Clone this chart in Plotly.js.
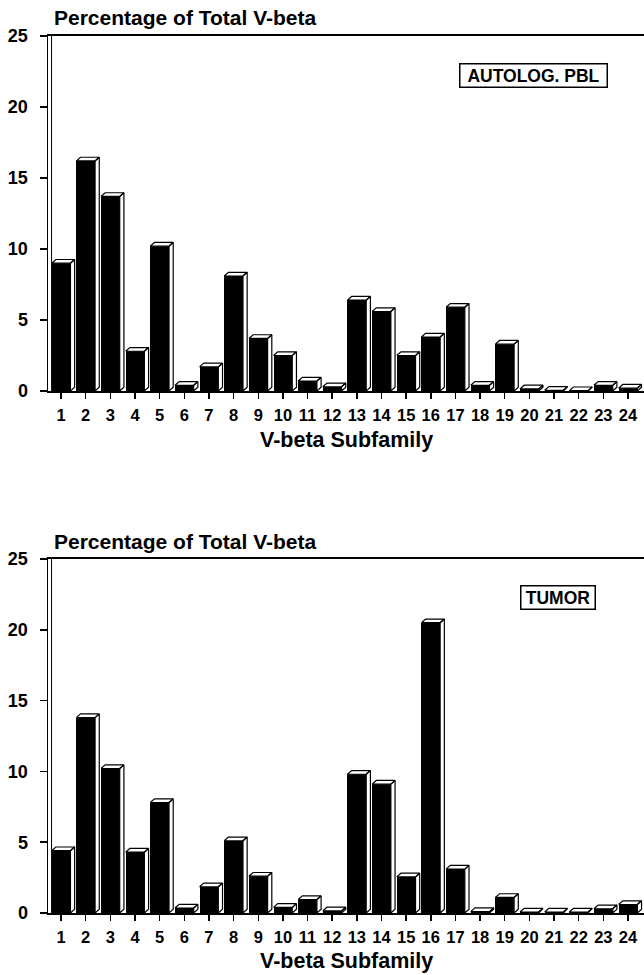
<!DOCTYPE html>
<html>
<head>
<meta charset="utf-8">
<script src="https://cdn.plot.ly/plotly-3.0.1.min.js"></script>
<style>html,body{margin:0;padding:0;background:#fff;}#chart{width:644px;height:975px;}</style>
</head>
<body>
<div id="chart"></div>
<script>
const categories = ['1','2','3','4','5','6','7','8','9','10','11','12','13','14','15','16','17','18','19','20','21','22','23','24'];
const pblValues = [9.0,16.2,13.7,2.8,10.2,0.4,1.7,8.1,3.7,2.5,0.7,0.3,6.4,5.6,2.5,3.8,5.9,0.4,3.3,0.15,0.05,0.02,0.4,0.2];
const tumorValues = [4.4,13.8,10.2,4.3,7.8,0.35,1.85,5.1,2.6,0.4,0.95,0.15,9.8,9.1,2.55,20.5,3.1,0.1,1.1,0.07,0.07,0.07,0.3,0.6];
const yTitle = 'Percentage of Total V-beta';
const xTitle = 'V-beta Subfamily';
const panelLabels = ['AUTOLOG. PBL', 'TUMOR'];

const W = 644, H = 975;
const FONT = 'Liberation Sans, Arial, Helvetica, sans-serif';
const barW = 0.76, dx = 0.17, dy = 0.26;
const xPos = categories.map((c, i) => i + 1);

function faces(vals) {
  const xs = [], ys = [];
  vals.forEach((v, i) => {
    const x0 = xPos[i] - barW / 2, x1 = xPos[i] + barW / 2;
    xs.push(x0, x0 + dx, x1 + dx, x1, x0, null);
    ys.push(v, v + dy, v + dy, v, v, null);
    xs.push(x1, x1 + dx, x1 + dx, x1, x1, null);
    ys.push(v, v + dy, dy, 0, v, null);
  });
  return {xs, ys};
}

const traces = [];
[[pblValues, 'x', 'y'], [tumorValues, 'x2', 'y2']].forEach(([vals, xa, ya]) => {
  traces.push({type: 'bar', x: xPos, y: vals, width: barW, xaxis: xa, yaxis: ya,
    marker: {color: '#000', line: {width: 0}}, hoverinfo: 'skip', showlegend: false});
  const f = faces(vals);
  traces.push({type: 'scatter', mode: 'lines', x: f.xs, y: f.ys, xaxis: xa, yaxis: ya,
    fill: 'toself', fillcolor: '#fff', line: {color: '#000', width: 1.2},
    hoverinfo: 'skip', showlegend: false});
});

const xTickFont = {family: FONT, size: 16.5, color: '#000', weight: 'bold'};
const yTickFont = {family: FONT, size: 18, color: '#000', weight: 'bold'};
function xaxisDef(anchor) {
  return {anchor: anchor, domain: [48 / W, 1], range: [0.47, 24.65],
    tickmode: 'array', tickvals: xPos, ticktext: categories,
    showline: true, linecolor: '#000', linewidth: 2, mirror: true,
    ticks: 'outside', ticklen: 6, tickwidth: 1.5, tickcolor: '#000',
    ticklabelstandoff: 2, tickfont: xTickFont, showgrid: false, zeroline: false, fixedrange: true};
}
function yaxisDef(anchor, top, bottom) {
  return {anchor: anchor, domain: [1 - bottom / H, 1 - top / H], range: [0, 25],
    tickvals: [0, 5, 10, 15, 20, 25],
    showline: true, linecolor: '#000', linewidth: 1.5,
    ticks: 'outside', ticklen: 7, tickwidth: 1.5, tickcolor: '#000',
    ticklabelstandoff: 8, tickfont: yTickFont, showgrid: false, zeroline: false, fixedrange: true};
}

const panels = [{top: 36, bottom: 391, titleY: 17, xTitleY: 440, label: panelLabels[0], labelX: 533, labelY: 76, labelW: 144},
                {top: 559, bottom: 913, titleY: 541, xTitleY: 961, label: panelLabels[1], labelX: 557.5, labelY: 597, labelW: 71}];

const annotations = [];
const shapes = [];
panels.forEach((p, k) => {
  annotations.push({xref: 'paper', yref: 'paper', x: 52 / W, y: 1 - p.titleY / H, xanchor: 'left', yanchor: 'middle',
    text: yTitle, showarrow: false, font: {family: FONT, size: 21, color: '#000', weight: 'bold'}});
  annotations.push({xref: 'paper', yref: 'paper', x: 346 / W, y: 1 - p.xTitleY / H, xanchor: 'center', yanchor: 'middle',
    text: xTitle, showarrow: false, font: {family: FONT, size: 21.5, color: '#000', weight: 'bold'}});
  annotations.push({xref: 'paper', yref: 'paper', x: p.labelX / W, y: 1 - p.labelY / H, xanchor: 'center', yanchor: 'middle',
    text: p.label, showarrow: false, width: p.labelW, align: 'center', bgcolor: '#fff',
    bordercolor: '#000', borderwidth: 1.5, borderpad: 1,
    font: {family: FONT, size: 17.5, color: '#000', weight: 'bold'}});
  const xr = k === 0 ? 'x domain' : 'x2 domain';
  const yr = k === 0 ? 'y' : 'y2';
  shapes.push({type: 'line', xref: xr, yref: yr, x0: 0.006, x1: 0.006, y0: 0, y1: 25, line: {color: '#000', width: 1}});
});

const layout = {
  width: W, height: H, margin: {l: 0, r: 0, t: 0, b: 0},
  paper_bgcolor: '#fff', plot_bgcolor: '#fff', showlegend: false, bargap: 0,
  xaxis: xaxisDef('y'), yaxis: yaxisDef('x', 36, 391),
  xaxis2: xaxisDef('y2'), yaxis2: yaxisDef('x2', 559, 913),
  annotations: annotations, shapes: shapes, font: {family: FONT}
};
Plotly.newPlot('chart', traces, layout, {staticPlot: true, displayModeBar: false});
</script>
</body>
</html>
